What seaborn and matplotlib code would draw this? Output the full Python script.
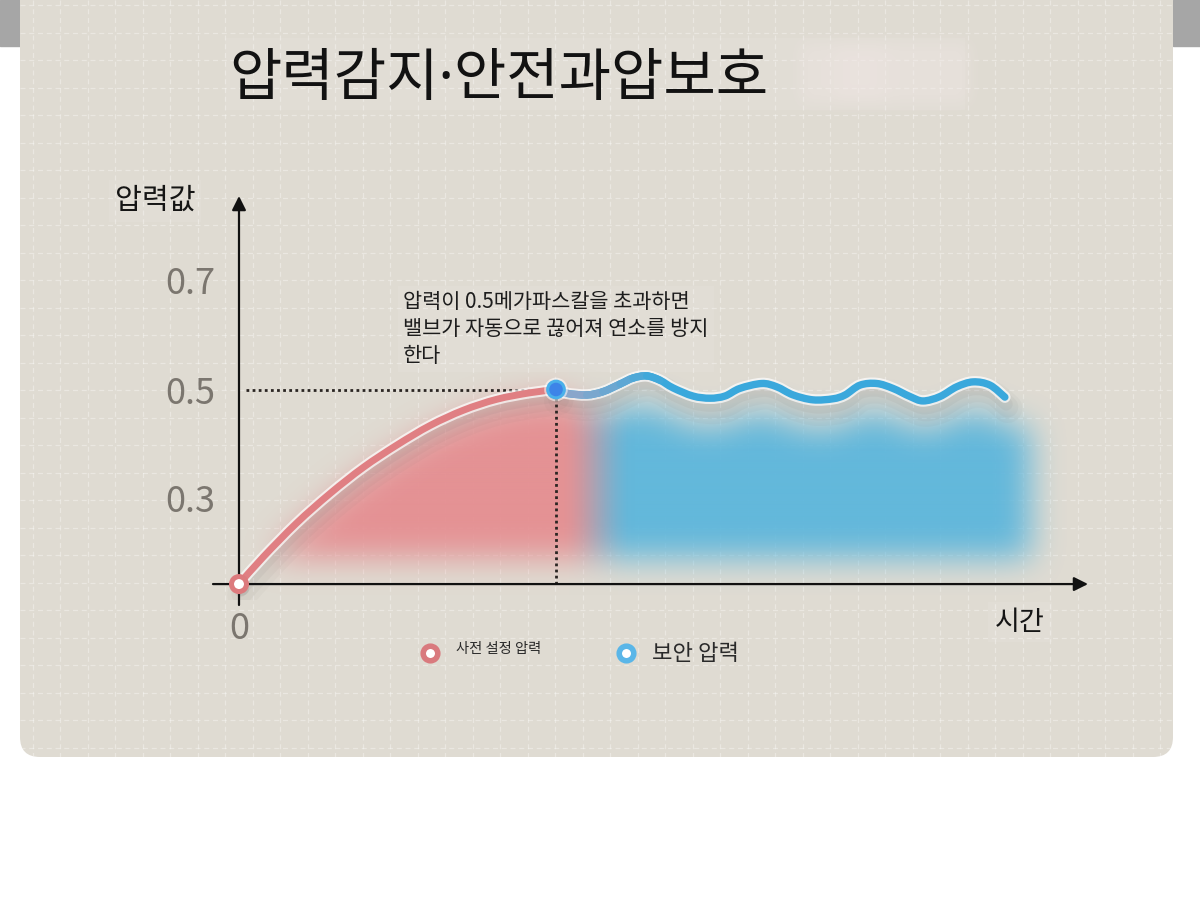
import numpy as np
import matplotlib
matplotlib.use("Agg")
import matplotlib.pyplot as plt
import seaborn as sns
from matplotlib.path import Path
from matplotlib.patches import PathPatch, FancyBboxPatch, Rectangle
from matplotlib.lines import Line2D
import matplotlib.patheffects as pe

# ---------------- data ----------------
title = "압력감지·안전과압보호"
y_label = "압력값"
x_label = "시간"
y_ticks = [0.3, 0.5, 0.7]
y_tick_labels = ["0.3", "0.5", "0.7"]
x_ticks = [0]
x_tick_labels = ["0"]
legend_labels = ["사전 설정 압력", "보안 압력"]
annotation = "압력이 0.5메가파스칼을 초과하면\n밸브가 자동으로 끊어져 연소를 방지\n한다"

threshold_p = 0.5
threshold_t = 10.0
base_p = 0.143          # pressure level drawn at the time axis

# preset pressure curve (rising to the threshold)
preset_t = [0.0, 0.77, 1.82, 2.87, 3.92, 4.98, 6.03, 7.08, 8.13, 9.18, 10.0]
preset_p = [0.143, 0.193, 0.255, 0.309, 0.357, 0.398, 0.434, 0.462, 0.482, 0.494, 0.5]

# safety pressure (oscillating around the threshold)
safe_t = [10.0, 10.34, 10.97, 11.48, 12.02, 12.43, 12.86, 13.28, 13.69, 14.32,
          14.86, 15.33, 15.80, 16.49, 16.96, 17.48, 18.11, 18.74, 19.12, 19.59,
          20.12, 20.63, 21.17, 21.58, 22.11, 22.64, 23.16, 23.69, 24.16]
safe_p = [0.5, 0.493, 0.490, 0.496, 0.510, 0.521, 0.525, 0.517, 0.503, 0.488,
          0.484, 0.488, 0.502, 0.511, 0.505, 0.490, 0.481, 0.483, 0.490, 0.508,
          0.511, 0.502, 0.487, 0.479, 0.487, 0.505, 0.514, 0.508, 0.486]

# ---------------- style ----------------
sns.set_theme(style="white")
plt.rcParams["font.family"] = ["Noto Sans CJK KR", "DejaVu Sans"]

W_PX, H_PX = 1200, 906
PANEL = "#dfdbd2"
RED = "#e07f83"
BLUE = "#3aa8dc"

fig = plt.figure(figsize=(W_PX / 100, H_PX / 100), dpi=100)

# decoration layer (card background, grid) in pixel units
deco = fig.add_axes([0, 0, 1, 1])
deco.set_xlim(0, W_PX)
deco.set_ylim(H_PX, 0)
deco.axis("off")
deco.add_patch(Rectangle((0, 0), 20, 46, color="#a6a6a6", zorder=0))
deco.add_patch(Rectangle((1173, 0), 27, 46, color="#a6a6a6", zorder=0))
panel = FancyBboxPatch((20, -40), 1153, 797, boxstyle="round,pad=0,rounding_size=20",
                       fc=PANEL, ec="none", zorder=1)
deco.add_patch(panel)
gx = np.arange(32.5, 1173, 27.5)
gy = np.arange(5, 757, 27.5)
vl = deco.vlines(gx, 0, 757, colors="white", linestyles=(0, (4, 3)), lw=0.9, alpha=0.35, zorder=2)
hl = deco.hlines(gy, 20, 1173, colors="white", linestyles=(0, (4, 3)), lw=0.9, alpha=0.35, zorder=2)
vl.set_clip_path(panel)
hl.set_clip_path(panel)
deco.add_patch(Rectangle((225, 38), 740, 72, fc="white", alpha=0.08, ec="none", zorder=2))


def box_blur(a, r, axis):
    pad = [(0, 0)] * a.ndim
    pad[axis] = (r + 1, r)
    c = np.cumsum(np.pad(a, pad), axis=axis)
    n = a.shape[axis]
    return (np.take(c, np.arange(2 * r + 1, 2 * r + 1 + n), axis=axis)
            - np.take(c, np.arange(0, n), axis=axis)) / (2 * r + 1)


def blur(a, r, passes=3):
    for _ in range(passes):
        a = box_blur(a, r, 0)
        a = box_blur(a, r, 1)
    return a


# blurred smudge right of title
sm = np.zeros((90, 220))
sm[15:75, 25:195] = 1
sm[15:75, 60:110] = 1.4
sm = blur(sm, 7)
smimg = np.zeros((90, 220, 4))
smimg[..., :3] = np.array([240, 230, 228]) / 255
smimg[..., 3] = np.clip(sm * 0.4, 0, 1)
deco.imshow(smimg, extent=[775, 995, 118, 28], zorder=2, interpolation="bilinear")
deco.set_xlim(0, W_PX)
deco.set_ylim(H_PX, 0)

fig.text(499 / W_PX, 1 - 81 / H_PX, title, ha="center", va="center",
         fontsize=41, color="#121212", family=["Noto Sans", "Noto Sans CJK KR"])

# ---------------- main chart ----------------
PX_T = 31.7      # pixels per time unit
PX_P = 545.0     # pixels per pressure unit
X0_PX, P05_PX = 239, 389.5
ax_l, ax_r, ax_t, ax_b = 225, 1100, 180, 600
ax = fig.add_axes([ax_l / W_PX, 1 - ax_b / H_PX, (ax_r - ax_l) / W_PX, (ax_b - ax_t) / H_PX])
ax.patch.set_alpha(0)
for s in ax.spines.values():
    s.set_visible(False)


def tpx(px):
    return (px - X0_PX) / PX_T


def ppx(py):
    return threshold_p - (py - P05_PX) / PX_P


xlim = (tpx(ax_l), tpx(ax_r))
ylim = (ppx(ax_b), ppx(ax_t))

# gradient fill under both curves
curve_t = np.array(preset_t + safe_t[1:])
curve_p = np.array(preset_p + safe_p[1:])
tA, tB = 0.0, tpx(1110)
pT, pB = ppx(360), ppx(615)
Wc = int(round((tB - tA) * PX_T))
Hc = int(round((pT - pB) * PX_P))
tt = tA + (np.arange(Wc) + 0.5) * (tB - tA) / Wc
pp = pT - (np.arange(Hc) + 0.5) * (pT - pB) / Hc
T, P = np.meshgrid(tt, pp)
fblend = np.clip((tt - tpx(560)) / (tpx(635) - tpx(560)), 0, 1)
fblend = fblend * fblend * (3 - 2 * fblend)
gap = 0.016 * (1 - fblend) + 0.055 * fblend
top = np.interp(tt, curve_t, curve_p) - gap
mask = ((P <= top[None, :]) & (P >= ppx(558)) & (T >= tpx(252)) & (T <= tpx(1030))).astype(float)
mask = blur(mask, 15)
red_rgb = np.array([229, 142, 145]) / 255
blue_rgb = np.array([92, 182, 220]) / 255
rgb = red_rgb[None, :] * (1 - fblend[:, None]) + blue_rgb[None, :] * fblend[:, None]
img = np.zeros((Hc, Wc, 4))
img[..., :3] = rgb[None, :, :]
img[..., 3] = np.clip(mask * 0.95, 0, 1)
ax.imshow(img, extent=[tA, tB, pB, pT], origin="upper", aspect="auto",
          interpolation="bilinear", zorder=1)


def smooth_segments(x, y):
    pts = np.column_stack([x, y])
    n = len(pts)
    segs = []
    for i in range(n - 1):
        p0 = pts[i - 1] if i > 0 else pts[i]
        p1, p2 = pts[i], pts[i + 1]
        p3 = pts[i + 2] if i + 2 < n else pts[i + 1]
        c1 = p1 + (p2 - p0) / 6
        c2 = p2 - (p3 - p1) / 6
        segs.append([p1, c1, c2, p2])
    return segs


def seg_path(segs):
    verts = [segs[0][0]]
    codes = [Path.MOVETO]
    for s in segs:
        verts += [s[1], s[2], s[3]]
        codes += [Path.CURVE4] * 3
    return Path(verts, codes)


def fx(lw):
    return [pe.SimpleLineShadow(offset=(2, -8), shadow_color="#4a4242", alpha=0.03, linewidth=lw + 16),
            pe.SimpleLineShadow(offset=(2, -7), shadow_color="#4a4242", alpha=0.04, linewidth=lw + 10),
            pe.SimpleLineShadow(offset=(1, -5), shadow_color="#4a4242", alpha=0.05, linewidth=lw + 4),
            pe.Stroke(linewidth=lw + 3, foreground="white", alpha=0.7),
            pe.Normal()]


red_segs = smooth_segments(preset_t, preset_p)
ax.add_patch(PathPatch(seg_path(red_segs), fill=False, ec=RED, lw=5, capstyle="round",
                       joinstyle="round", zorder=4, path_effects=fx(5)))
blue_segs = smooth_segments(safe_t, safe_p)
ax.add_patch(PathPatch(seg_path(blue_segs), fill=False, ec=BLUE, lw=5.3, capstyle="round",
                       joinstyle="round", zorder=4, path_effects=fx(5.3)))
# colour transition at the start of the wave
c0 = np.array([158, 166, 198]) / 255
c1 = np.array(matplotlib.colors.to_rgb(BLUE))
n_grad = 7
for i in range(n_grad):
    f = (i + 0.5) / n_grad
    col = c0 * (1 - f) + c1 * f
    ax.add_patch(PathPatch(seg_path([blue_segs[i]]), fill=False, ec=col, lw=5.3,
                           capstyle="round", zorder=4.5))

# threshold guides
ax.plot([tpx(246), threshold_t - 0.3], [threshold_p, threshold_p], ls=(0, (1, 1.2)),
        lw=2, color="#2a2522", zorder=3)
ax.plot([threshold_t, threshold_t], [threshold_p - 0.016, base_p], ls=(0, (1, 1.2)),
        lw=2, color="#2a2522", zorder=3)

# axes with arrows
arrow = dict(arrowstyle="-|>,head_length=0.6,head_width=0.3", color="#111111", lw=1.6,
             mutation_scale=14, shrinkA=0, shrinkB=0)
ax.annotate("", xy=(0, ppx(196)), xytext=(0, ppx(605)), arrowprops=arrow,
            annotation_clip=False, zorder=5)
ax.annotate("", xy=(tpx(1088), base_p), xytext=(tpx(213), base_p), arrowprops=arrow,
            annotation_clip=False, zorder=5)

# markers
ax.plot([0], [base_p], marker="o", ms=10.8, mfc="white", mec="#dc7a7d", mew=3.6,
        ls="none", zorder=7, clip_on=False,
        path_effects=[pe.SimplePatchShadow(offset=(2, -3), alpha=0.12), pe.Normal()])
ax.plot([threshold_t], [threshold_p], marker="o", ms=12, mfc="#3d84e8", mec="#4ab0ea",
        mew=2.2, ls="none", zorder=7,
        path_effects=[pe.Stroke(linewidth=5, foreground="white", alpha=0.55), pe.Normal()])

# ticks and labels
ax.set_xlim(*xlim)
ax.set_ylim(*ylim)
ax.set_yticks(y_ticks, y_tick_labels)
ax.set_xticks(x_ticks, x_tick_labels)
ax.tick_params(axis="y", length=0, pad=7, labelsize=26, labelcolor="#7b766f")
ax.tick_params(axis="x", length=0, pad=8, labelsize=26, labelcolor="#7b766f")
ax.grid(False)

ax.text(tpx(155), ppx(201), y_label, ha="center", va="center", fontsize=21, color="#151515",
        bbox=dict(boxstyle="square,pad=0.2", fc="white", alpha=0.08, ec="none"))
ax.text(tpx(1020), ppx(622), x_label, ha="center", va="center", fontsize=19.5, color="#151515",
        bbox=dict(boxstyle="square,pad=0.25", fc="white", alpha=0.08, ec="none"), clip_on=False)
ax.text(tpx(403), ppx(291), annotation, ha="left", va="top", fontsize=15, linespacing=1.28,
        color="#1d1d1d", bbox=dict(boxstyle="square,pad=0.25", fc="white", alpha=0.08, ec="none"))

handles = [Line2D([], [], marker="o", ls="none", ms=10.5, mew=4, mfc="white", mec="#d97a7e"),
           Line2D([], [], marker="o", ls="none", ms=10.5, mew=4, mfc="white", mec="#5ab6e8")]
leg = ax.legend(handles, legend_labels, ncol=2, loc="center left",
                bbox_to_anchor=(420 / W_PX, 1 - 654 / H_PX), bbox_transform=fig.transFigure,
                frameon=False, prop={"size": 16}, handlelength=0.9, handletextpad=0.7,
                columnspacing=3.4, borderpad=0, borderaxespad=0)
leg.get_texts()[0].set_fontsize(10.3)
leg.get_texts()[0].set_position((0, 7))
for t in leg.get_texts():
    t.set_color("#2a2a2a")

fig.savefig("out.png", dpi=100)
